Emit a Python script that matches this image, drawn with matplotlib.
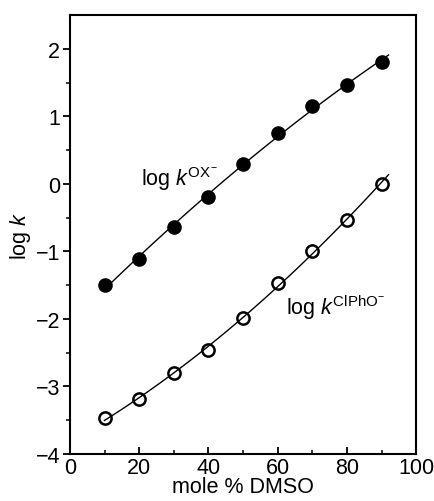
import numpy as np
import matplotlib
matplotlib.use('Agg')
import matplotlib.pyplot as plt

plt.rcParams['font.family'] = ['Liberation Sans', 'DejaVu Sans']
plt.rcParams['mathtext.fontset'] = 'custom'
plt.rcParams['mathtext.rm'] = 'Liberation Sans'
plt.rcParams['mathtext.it'] = 'Liberation Sans:italic'

# mole % DMSO
dmso = [10, 20, 30, 40, 50, 60, 70, 80, 90]
# log k for OX- (filled) and ClPhO- (open)
logk_ox = [-1.50, -1.12, -0.64, -0.20, 0.29, 0.75, 1.15, 1.47, 1.80]
logk_clpho = [-3.47, -3.19, -2.81, -2.46, -1.99, -1.47, -0.99, -0.54, 0.00]

fig = plt.figure(figsize=(4.34, 5.02), dpi=100)
ax = fig.add_axes([0.161, 0.094, 0.798, 0.874])

ax.plot(dmso, logk_ox, 'o', color='black', ms=9.5, zorder=2)
ax.plot(dmso, logk_clpho, 'o', mfc='white', mec='black', mew=1.8, ms=8.8, zorder=2)

# quadratic fit lines through the points, drawn over the markers
xf = np.linspace(10, 92, 100)
p1 = np.polyfit(dmso, logk_ox, 2)
p2 = np.polyfit(dmso, logk_clpho, 2)
ax.plot(xf, np.polyval(p1, xf), color='black', lw=1.0, zorder=3)
ax.plot(xf, np.polyval(p2, xf), color='black', lw=1.0, zorder=3)

ax.text(20.5, 0.08, r'log $k^{\mathrm{OX}^{\!-}}$', fontsize=15.5, va='center', ha='left')
ax.text(62.5, -1.82, r'log $k^{\mathrm{ClPhO}^{\!-}}$', fontsize=15.5, va='center', ha='left')

ax.set_xlim(0, 100)
ax.set_ylim(-4, 2.5)
ax.set_xticks([0, 20, 40, 60, 80, 100])
ax.set_xticks([10, 30, 50, 70, 90], minor=True)
ax.set_yticks([-4, -3, -2, -1, 0, 1, 2])
ax.set_yticks(np.arange(-3.5, 2.5, 1.0), minor=True)
ax.set_yticklabels(['\u22124', '\u22123', '\u22122', '\u22121', '0', '1', '2'])
ax.tick_params(axis='both', which='major', labelsize=15.5, length=5, width=1.3, pad=2)
ax.tick_params(axis='both', which='minor', length=3, width=1.1)
ax.tick_params(axis='x', which='both', direction='in')
ax.tick_params(axis='y', which='both', direction='out')
for s in ax.spines.values():
    s.set_linewidth(1.5)

ax.set_xlabel('mole % DMSO', fontsize=15.5, labelpad=-1)
ax.set_ylabel(r'log $k$', fontsize=15.5, labelpad=2)

fig.savefig('out.png', dpi=100)
